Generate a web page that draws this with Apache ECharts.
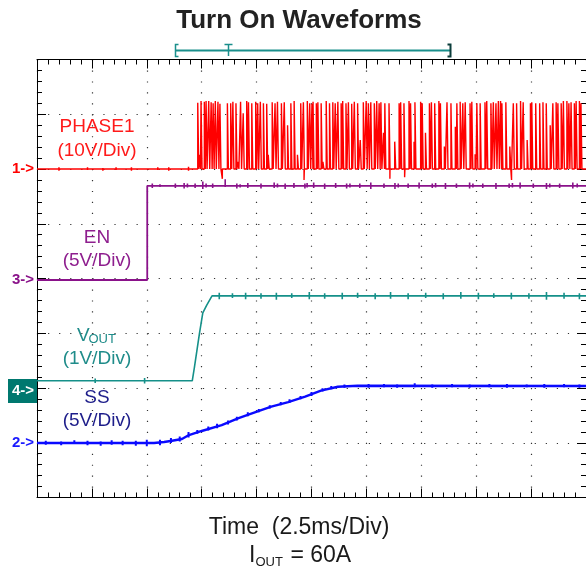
<!DOCTYPE html>
<html><head><meta charset="utf-8">
<script src="https://cdn.jsdelivr.net/npm/echarts@6/dist/echarts.min.js"></script>
<style>html,body{margin:0;padding:0;background:#fff}#c{width:586px;height:574px}</style>
</head><body><div id="c"></div>
<script>
// ---------- data ----------
const titleText = 'Turn On Waveforms';
const timeAxisLabel = 'Time  (2.5ms/Div)';
const loadLabelParts = ['I', 'OUT', ' = 60A'];
const timeRange = [0, 25];          // ms (2.5 ms/Div, 10 Div)
const timePerDiv = 2.5;
const verticalDivs = 8;

// channels: PHASE1, EN, VOUT, SS
const chLabel = ['PHASE1', 'EN', 'V', 'SS'];
const chScaleLabel = ['(10V/Div)', '(5V/Div)', '(1V/Div)', '(5V/Div)'];
const chMarker = ['1->', '3->', '4->', '2->'];
const chVoltsPerDiv = [10, 5, 1, 5];
const chZeroDiv = [6.0, 3.973, 1.982, 0.995];   // ground position (div above bottom)

// EN (V)
const enTime = [0, 5.02, 5.02, 25];
const enVolt = [0, 0, 8.6, 8.6];
// VOUT (V)
const voutTime = [0, 7.07, 7.17, 7.40, 7.55, 7.73, 7.97, 25];
const voutVolt = [0.15, 0.15, 0.40, 1.02, 1.39, 1.53, 1.70, 1.70];
// SS (V)
const ssTime = [0, 5.33, 5.79, 6.15, 6.60, 6.92, 7.50, 8.41, 9.18, 9.95, 10.67, 11.44, 12.21, 12.93, 13.70, 14.60, 25];
const ssVolt = [0, 0, 0.09, 0.21, 0.37, 0.73, 1.10, 1.64, 2.28, 2.83, 3.32, 3.74, 4.23, 4.78, 5.14, 5.23, 5.21];
// PHASE1 switching pulses (ms, V peak), pulse duration as displayed (ms)
const pulseTime = [7.32,7.40,7.47,7.62,7.70,7.82,7.93,8.02,8.12,8.24,8.33,8.67,8.82,8.92,9.06,9.15,9.27,9.39,9.55,9.63,9.78,9.96,10.05,10.17,10.31,10.46,10.53,10.71,10.84,10.95,11.13,11.26,11.41,11.56,11.71,11.86,12.01,12.13,12.31,12.42,12.52,12.57,12.72,12.79,12.94,13.02,13.17,13.32,13.47,13.58,13.70,13.85,13.92,14.07,14.18,14.33,14.45,14.60,14.72,14.86,14.99,15.09,15.20,15.36,15.47,15.58,15.66,15.78,15.84,16.03,16.29,16.49,16.56,16.71,16.94,17.01,17.17,17.21,17.47,17.54,17.69,17.87,17.96,18.11,18.30,18.37,18.55,18.67,18.85,19.05,19.12,19.27,19.39,19.50,19.72,19.80,19.95,20.03,20.18,20.40,20.48,20.67,20.78,20.90,21.01,21.11,21.17,21.35,21.53,21.69,21.84,22.02,22.14,22.32,22.47,22.53,22.71,22.89,23.04,23.19,23.37,23.49,23.64,23.72,23.87,23.97,24.13,24.22,24.32,24.47,24.55,24.70,24.77];
const pulsePeak = [12.1,2.6,12.4,12.3,12.4,12.4,12.2,12.0,12.4,12.3,11.9,12.0,12.0,12.3,12.0,1.3,12.3,10.2,12.4,12.2,12.0,12.3,12.0,12.3,12.0,11.9,2.6,12.2,12.0,12.3,12.0,12.2,8.0,12.0,12.4,2.6,12.0,12.2,12.4,12.0,11.9,12.3,12.0,12.2,12.0,1.3,12.4,12.0,12.2,12.0,12.3,12.0,12.4,12.0,12.2,11.9,12.3,12.0,5.3,12.2,12.4,12.0,12.2,12.0,12.4,12.0,12.2,6.6,12.0,12.0,5.0,12.0,12.2,12.0,12.4,12.0,5.0,12.2,12.3,12.0,6.6,12.0,12.2,12.0,12.4,12.0,4.1,12.2,12.0,7.7,12.0,12.3,12.0,12.2,12.0,12.3,2.7,12.0,12.0,12.2,12.4,12.0,12.2,12.0,12.4,12.4,12.0,12.2,4.1,12.0,12.0,12.4,12.2,5.3,12.0,12.2,12.0,12.0,12.2,12.0,8.0,12.0,12.2,12.0,12.0,12.4,12.4,12.0,12.2,12.0,12.4,12.4,12.0];
const pulseWidth = 0.045;
const negSpikeTime = [8.44, 12.16, 16.07, 16.74, 21.61];
const negSpikeVolt = [-1.8, -2.0, -1.8, -1.5, -2.0];
// trace noise ticks [time, low V, high V]
const phaseNoise = [[1.0,-0.3,0.3],[2.3,-0.2,0.3],[3.0,-0.3,0.2],[3.6,-0.2,0.3],[4.3,-0.3,0.3],[5.5,-0.2,0.3],[6.0,-0.3,0.3],[6.9,-0.3,0.4]];
const enNoise = [[5.25,8.4,8.8],[5.6,8.5,8.75],[6.3,8.4,8.8],[6.7,8.35,8.85],[6.85,8.45,8.8],[7.2,8.4,8.8],[7.55,8.3,9.0],[7.7,8.45,8.8],[8.0,8.4,8.8],[8.57,8.5,9.2],[9.1,8.35,8.8],[9.25,8.45,8.75],[9.6,8.4,8.85],[10.2,8.35,8.8],[10.8,8.4,8.9],[10.95,8.45,8.8],[11.3,8.3,8.8],[11.7,8.4,8.85],[12.2,8.35,8.8],[12.3,8.45,8.85],[12.6,8.4,8.9],[13.1,8.3,8.8],[13.6,8.4,8.85],[14.1,8.35,8.8],[14.25,8.45,8.8],[14.7,8.4,8.8],[15.2,8.3,8.9],[15.8,8.4,8.8],[16.3,8.3,8.85],[16.45,8.45,8.8],[16.9,8.4,8.8],[17.4,8.35,8.9],[18.0,8.4,8.8],[18.15,8.45,8.85],[18.6,8.3,8.85],[19.1,8.4,8.8],[19.7,8.35,8.9],[19.85,8.45,8.8],[20.3,8.4,8.8],[20.9,8.3,8.85],[21.5,8.4,8.8],[21.65,8.45,8.85],[22.0,8.35,8.9],[22.6,8.4,8.8],[23.2,8.3,8.85],[23.35,8.45,8.8],[23.8,8.4,8.8],[24.4,8.35,8.9],[24.6,8.45,8.8]];
const voutNoise = [[2.65,0.11,0.19],[4.9,0.10,0.20],[8.3,1.64,1.76],[8.9,1.66,1.75],[9.5,1.64,1.76],[10.2,1.65,1.75],[10.9,1.63,1.76],[11.6,1.66,1.75],[12.4,1.64,1.77],[13.1,1.65,1.75],[13.9,1.64,1.76],[14.6,1.66,1.76],[15.4,1.64,1.75],[16.1,1.65,1.77],[16.9,1.64,1.75],[17.7,1.66,1.76],[18.5,1.64,1.75],[19.3,1.65,1.77],[20.1,1.64,1.76],[20.8,1.66,1.75],[21.6,1.64,1.76],[22.4,1.65,1.75],[23.2,1.63,1.77],[24.0,1.65,1.76],[24.7,1.64,1.75]];
const ssNoise = [[0.4,-0.15,0.2],[1.1,-0.2,0.15],[1.7,-0.1,0.25],[2.3,-0.2,0.2],[2.9,-0.25,0.15],[3.4,-0.15,0.25],[3.9,-0.2,0.2],[4.5,-0.25,0.2],[5.0,-0.3,0.3],[5.6,-0.2,0.3],[6.1,0.0,0.45],[6.5,0.15,0.6],[6.9,0.5,1.0],[7.3,0.85,1.2],[7.8,1.15,1.5],[8.2,1.35,1.75],[8.7,1.7,2.05],[9.1,2.05,2.4],[9.6,2.45,2.8],[10.1,2.8,3.1],[10.6,3.15,3.45],[11.1,3.45,3.75],[11.5,3.65,4.0],[12.0,4.0,4.3],[12.5,4.3,4.65],[13.0,4.7,5.0],[13.4,4.9,5.2],[14.0,5.05,5.35],[15.1,5.05,5.4],[15.8,5.1,5.4],[16.4,5.05,5.35],[17.2,5.1,5.45],[18.0,5.05,5.35],[18.9,5.1,5.4],[19.7,5.05,5.35],[20.6,5.1,5.4],[21.4,5.05,5.4],[22.3,5.1,5.35],[23.1,5.05,5.4],[24.0,5.1,5.4],[24.7,5.05,5.35]];

// ---------- style ----------
const FONT = "'Liberation Sans', Arial, Helvetica, sans-serif";
const COL = { phase: '#ff0000', en: '#8a128a', vout: '#159089', ss: '#0a0aff',
  phaseText: '#ff1a1a', enText: '#8e1e8e', voutText: '#1f8c8a', ssText: '#1d1d8a',
  ssMarker: '#1a1aff', box: '#00786f', grid: '#000', dot: '#333', text: '#1a1a1a' };
const GRID = { left: 37, top: 59.5, width: 553, height: 438 };

// ---------- build ----------
const zip = (a, b) => a.map((v, i) => [v, b[i]]);
const events = pulseTime.map((t, i) => [t, pulsePeak[i], pulseWidth])
  .concat(negSpikeTime.map((t, i) => [t, negSpikeVolt[i], 0]))
  .sort((a, b) => a[0] - b[0]);
const phaseData = [[timeRange[0], 0]];
events.forEach(e => { phaseData.push([e[0], 0], [e[0], e[1]], [e[0] + e[2], e[1]], [e[0] + e[2], 0]); });
phaseData.push([timeRange[1], 0]);

function chAxis(k) {
  return { type: 'value', show: false, gridIndex: 0,
    min: -chZeroDiv[k] * chVoltsPerDiv[k], max: (verticalDivs - chZeroDiv[k]) * chVoltsPerDiv[k] };
}
function frameX(pos, split) {
  return { type: 'value', position: pos, min: timeRange[0], max: timeRange[1], interval: timePerDiv,
    axisLine: { show: true, onZero: false, lineStyle: { color: COL.grid, width: 1 } },
    axisTick: { show: true, inside: true, length: 9, lineStyle: { color: COL.grid } },
    minorTick: { show: true, splitNumber: 5, length: 5, lineStyle: { color: COL.grid } },
    axisLabel: { show: false },
    splitLine: { show: split, lineStyle: { color: COL.dot, width: 1.2, type: [1.2, 9.75] } } };
}
function frameY(pos, split) {
  return { type: 'value', position: pos, min: 0, max: verticalDivs, interval: 1,
    axisLine: { show: true, onZero: false, lineStyle: { color: COL.grid, width: 1 } },
    axisTick: { show: true, inside: true, length: 9, lineStyle: { color: COL.grid } },
    minorTick: { show: true, splitNumber: 5, length: 5, lineStyle: { color: COL.grid } },
    axisLabel: { show: false },
    splitLine: { show: split, lineStyle: { color: COL.dot, width: 1.2, type: [1.2, 9.86] } } };
}
function noiseSeries(data, yIdx, color, w) {
  return { type: 'custom', xAxisIndex: 0, yAxisIndex: yIdx, data: data, silent: true,
    encode: { x: 0, y: [1, 2] }, clip: true,
    renderItem: (p, api) => {
      const a = api.coord([api.value(0), api.value(1)]);
      const b = api.coord([api.value(0), api.value(2)]);
      return { type: 'line', shape: { x1: a[0], y1: a[1], x2: b[0], y2: b[1] },
        style: { stroke: color, lineWidth: w } };
    } };
}
function lineSeries(data, yIdx, color, w, z) {
  return { type: 'line', xAxisIndex: 0, yAxisIndex: yIdx, data: data, showSymbol: false, symbol: 'none',
    lineStyle: { color: color, width: w }, itemStyle: { color: color }, z: z, silent: true, clip: true };
}

const chart = echarts.init(document.getElementById('c'), null, { renderer: 'canvas' });
chart.setOption({
  animation: false,
  backgroundColor: '#fff',
  grid: GRID,
  xAxis: [frameX('bottom', true), frameX('top', false)],
  yAxis: [frameY('left', true), frameY('right', false), chAxis(0), chAxis(1), chAxis(2), chAxis(3)],
  series: [
    lineSeries(zip(ssTime, ssVolt), 5, COL.ss, 2.4, 2),
    noiseSeries(ssNoise, 5, COL.ss, 2),
    lineSeries(zip(voutTime, voutVolt), 4, COL.vout, 1.6, 3),
    noiseSeries(voutNoise, 4, COL.vout, 1.6),
    lineSeries(zip(enTime, enVolt), 3, COL.en, 1.8, 4),
    noiseSeries(enNoise, 3, COL.en, 1.6),
    lineSeries(phaseData, 2, COL.phase, 1.4, 5),
    noiseSeries(phaseNoise, 2, COL.phase, 1.5)
  ]
});

// ground markers placed through the channel axes
const markerY = [0, 1, 2, 3].map(k => chart.convertToPixel({ yAxisIndex: k + 2 }, 0));
const txt = (x, y, s, fill, size, extra) => Object.assign({ type: 'text', x: x, y: y, silent: true,
  style: Object.assign({ text: s, fill: fill, fontSize: size, fontFamily: FONT, align: 'center', verticalAlign: 'middle' }, extra || {}) });
const g = [];
g.push(txt(299, 21, titleText, '#222', 26, { fontWeight: 'bold' }));
// record-view bar
g.push({ type: 'line', shape: { x1: 175.5, y1: 50.5, x2: 450.5, y2: 50.5 }, style: { stroke: '#1a8f8c', lineWidth: 2 } });
g.push({ type: 'polyline', shape: { points: [[178.5, 44.5], [175.5, 44.5], [175.5, 56.5], [178.5, 56.5]] }, style: { stroke: '#1a8f8c', lineWidth: 1.5, fill: null } });
g.push({ type: 'line', shape: { x1: 224.5, y1: 44.5, x2: 232.5, y2: 44.5 }, style: { stroke: '#1a8f8c', lineWidth: 1.5 } });
g.push({ type: 'line', shape: { x1: 228.5, y1: 44.5, x2: 228.5, y2: 56 }, style: { stroke: '#1a8f8c', lineWidth: 1.5 } });
g.push({ type: 'polyline', shape: { points: [[447.5, 44.5], [450.5, 44.5], [450.5, 56.5], [447.5, 56.5]] }, style: { stroke: '#0b3d3b', lineWidth: 2, fill: null } });
// channel labels
g.push(txt(97, 127, chLabel[0], COL.phaseText, 19));
g.push(txt(97, 151, chScaleLabel[0], COL.phaseText, 19));
g.push(txt(97, 238, chLabel[1], COL.enText, 19));
g.push(txt(97, 261, chScaleLabel[1], COL.enText, 19));
g.push(txt(77, 336, chLabel[2], COL.voutText, 19, { align: 'left' }));
g.push(txt(88.5, 339.5, 'OUT', COL.voutText, 13, { align: 'left' }));
g.push(txt(97, 359, chScaleLabel[2], COL.voutText, 19));
g.push(txt(97, 398, chLabel[3], COL.ssText, 19));
g.push(txt(97, 421, chScaleLabel[3], COL.ssText, 19));
// ground markers
const mk = { align: 'right', fontWeight: 'bold' };
g.push(txt(34, markerY[0], chMarker[0], COL.phase, 15, mk));
g.push(txt(34, markerY[1], chMarker[1], COL.en, 15, mk));
g.push({ type: 'rect', shape: { x: 8, y: markerY[2] - 10, width: 29, height: 24 }, style: { fill: COL.box } });
g.push(txt(34, markerY[2] + 2, chMarker[2], '#fff', 15, mk));
g.push(txt(34, markerY[3], chMarker[3], COL.ssMarker, 15, mk));
// axis texts
g.push(txt(299, 528, timeAxisLabel, COL.text, 23));
g.push(txt(249, 556, loadLabelParts[0], COL.text, 23, { align: 'left' }));
g.push(txt(255.5, 562, loadLabelParts[1], COL.text, 13, { align: 'left' }));
g.push(txt(284, 556, loadLabelParts[2], COL.text, 23, { align: 'left' }));
chart.setOption({ graphic: g });
</script></body></html>
